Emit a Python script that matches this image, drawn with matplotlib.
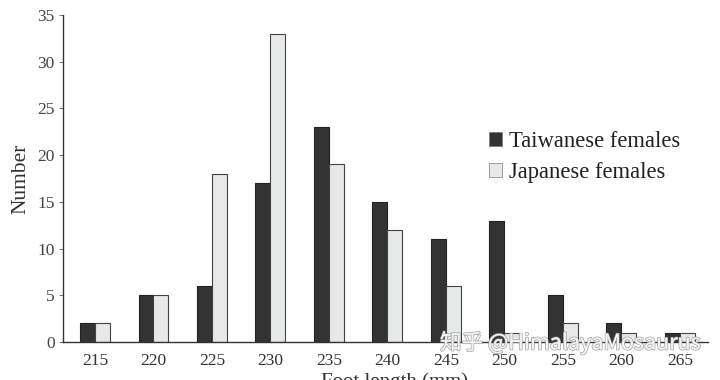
import matplotlib
matplotlib.use("Agg")
import matplotlib.pyplot as plt
import matplotlib.patheffects as pe
import numpy as np

categories = ["215", "220", "225", "230", "235", "240", "245", "250", "255", "260", "265"]
taiwanese = [2, 5, 6, 17, 23, 15, 11, 13, 5, 2, 1]
japanese = [2, 5, 18, 33, 19, 12, 6, 1, 2, 1, 1]

plt.rcParams['font.family'] = ['Liberation Serif', 'DejaVu Serif']

fig = plt.figure(figsize=(7.2, 3.8), dpi=100)
ax = fig.add_axes([63/720, 1 - 342/380, (708-63)/720, (342-15)/380])

x = np.arange(len(categories))
w = 0.256
ax.bar(x - w/2, taiwanese, width=w, color='#333333', edgecolor='#222222', linewidth=0.8,
       label='Taiwanese females')
ax.bar(x + w/2, japanese, width=w, color='#e6e9e8', edgecolor='#444444', linewidth=0.8,
       label='Japanese females')

ax.set_xlim(-0.547, 10.48)
ax.set_ylim(0, 35)
ax.set_yticks(range(0, 36, 5))
ax.set_xticks(x)
ax.set_xticklabels(categories)
ax.tick_params(axis='x', length=0, labelsize=12.5, colors='#333333', pad=8)
ax.tick_params(axis='y', length=3, width=0.6, direction='out', labelsize=12.5,
               colors='#555555', labelcolor='#444444', pad=3)
for s in ['top', 'right']:
    ax.spines[s].set_visible(False)
for s in ['left', 'bottom']:
    ax.spines[s].set_color('#333333')
    ax.spines[s].set_linewidth(1.0)

ax.set_ylabel('Number', fontsize=15.5, color='#333333', labelpad=5)
fig.text(395/720, 1 - 382/380, 'Foot length (mm)', ha='center', va='center',
         fontsize=15, color='#333333')

leg = ax.legend(loc='center left', bbox_to_anchor=(0.643, 0.566), frameon=False,
                fontsize=16.3, handlelength=0.55, handleheight=0.55, handletextpad=0.35,
                labelspacing=0.45, labelcolor='#222222', borderpad=0)
for h in leg.legend_handles:
    h.set_linewidth(0.5)
    h.set_edgecolor('#777777')

wm = fig.text(440/720, 1 - 343/380, '知乎 @HimalayaMosaurus', ha='left', va='center',
              fontsize=15.5, color='#f4f4f4', alpha=0.9,
              family=['Noto Sans CJK SC', 'DejaVu Sans'])
wm.set_path_effects([pe.withStroke(linewidth=1.2, foreground='#9a9a9a'), pe.Normal()])

fig.savefig('out.png', dpi=100)
